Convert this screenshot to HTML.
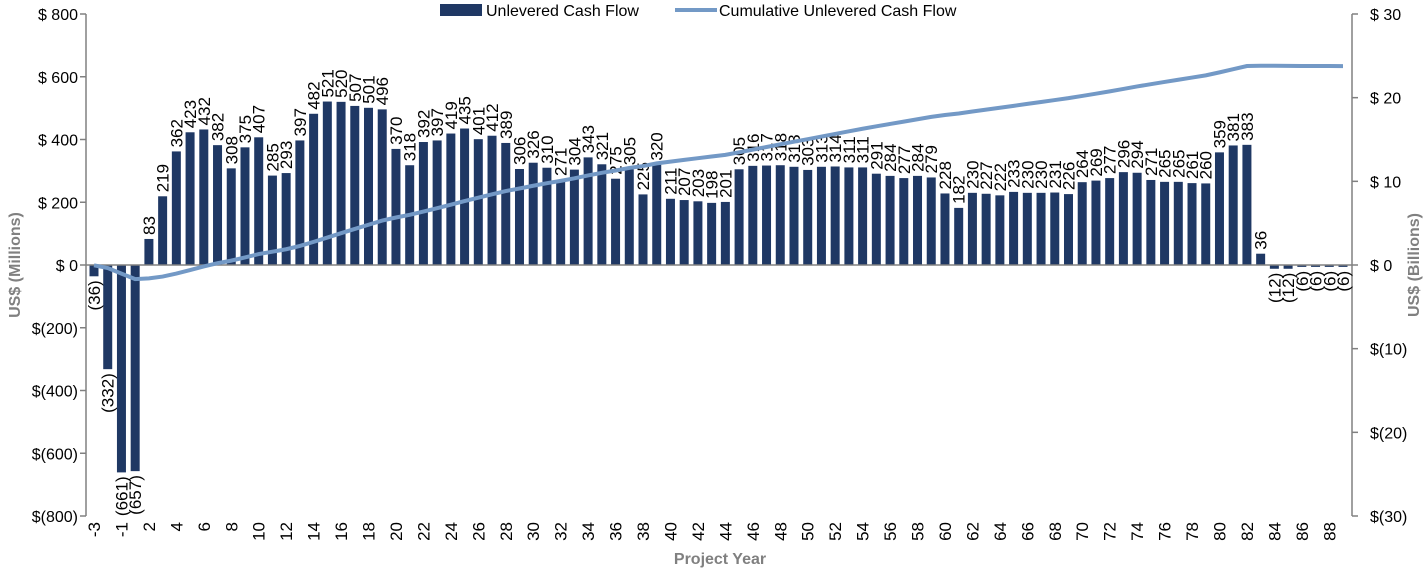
<!DOCTYPE html>
<html><head><meta charset="utf-8"><style>
body{margin:0;background:#fff;font-family:"Liberation Sans",Arial,sans-serif}
svg text{font-family:"Liberation Sans",Arial,sans-serif}
</style></head><body>
<svg id="c" width="1427" height="569"></svg>
<script>
const years=[-3,-2,-1,1,2,3,4,5,6,7,8,9,10,11,12,13,14,15,16,17,18,19,20,21,22,23,24,25,26,27,28,29,30,31,32,33,34,35,36,37,38,39,40,41,42,43,44,45,46,47,48,49,50,51,52,53,54,55,56,57,58,59,60,61,62,63,64,65,66,67,68,69,70,71,72,73,74,75,76,77,78,79,80,81,82,83,84,85,86,87,88,89];
const cashFlow=[-36,-332,-661,-657,83,219,362,423,432,382,308,375,407,285,293,397,482,521,520,507,501,496,370,318,392,397,419,435,401,412,389,306,326,310,271,304,343,321,275,305,225,320,211,207,203,198,201,305,316,317,318,313,303,313,314,311,311,291,284,277,284,279,228,182,230,227,222,233,230,230,231,226,264,269,277,296,294,271,265,265,261,260,359,381,383,36,-12,-12,-6,-6,-6,-6];
const leftTicks=[800,600,400,200,0,-200,-400,-600,-800];
const leftTickLabels=["$ 800","$ 600","$ 400","$ 200","$ 0","$(200)","$(400)","$(600)","$(800)"];
const rightTicks=[30,20,10,0,-10,-20,-30];
const rightTickLabels=["$ 30","$ 20","$ 10","$ 0","$(10)","$(20)","$(30)"];

const svg=document.getElementById('c');
const NS='http://www.w3.org/2000/svg';
function mk(t,a,p){const e=document.createElementNS(NS,t);for(const k in a)e.setAttribute(k,a[k]);(p||svg).appendChild(e);return e;}
const plotTop=14,plotBot=516,axL=86,axR=1352;
const yL=v=>plotTop+(800-v)/1600*(plotBot-plotTop);
const yR=v=>plotTop+(30-v)/60*(plotBot-plotTop);
const x0=94,step=(1343-94)/(years.length-1);
const xI=i=>x0+i*step;
const fmt=v=>v<0?"("+(-v)+")":String(v);

let e=mk('line',{x1:axL,y1:plotTop,x2:axL,y2:plotBot,stroke:'#808080','stroke-width':1.5});

e=mk('line',{x1:axR,y1:plotTop,x2:axR,y2:plotBot,stroke:'#808080','stroke-width':1.5});

leftTicks.forEach((v,i)=>{
  mk('line',{x1:axL-6,y1:yL(v),x2:axL,y2:yL(v),stroke:'#808080','stroke-width':1.5});
  const t=mk('text',{x:axL-8,y:yL(v)+6,'text-anchor':'end','font-size':16,fill:'#000'});
  t.textContent=leftTickLabels[i];
  
});
rightTicks.forEach((v,i)=>{
  mk('line',{x1:axR,y1:yR(v),x2:axR+6,y2:yR(v),stroke:'#808080','stroke-width':1.5});
  const t=mk('text',{x:axR+18,y:yR(v)+6,'font-size':16,fill:'#000'});
  t.textContent=rightTickLabels[i];
  
});
cashFlow.forEach((v,i)=>{
  const x=xI(i),y0=yL(0),y1=yL(v);
  const r=mk('rect',{x:x-4.5,y:Math.min(y0,y1),width:9,height:Math.max(0.5,Math.abs(y1-y0)),fill:'#1f3864'});
  
  const ty=v>=0?y1-4:y1+4;
  const t=mk('text',{x:0,y:0,'font-size':17,fill:'#000','text-anchor':v>=0?'start':'end',transform:`translate(${x+6},${ty}) rotate(-90)`});
  t.textContent=fmt(v);
  
});
e=mk('line',{x1:axL,y1:yL(0),x2:axR,y2:yL(0),stroke:'#808080','stroke-width':1.5});

years.forEach((yr,i)=>{
  if(i%2!==0)return;
  const t=mk('text',{x:0,y:0,'font-size':17,fill:'#000','text-anchor':'end',transform:`translate(${xI(i)+6},${plotBot+6}) rotate(-90)`});
  t.textContent=yr;
  
});
let cum=0;const pts=cashFlow.map((v,i)=>{cum+=v;return xI(i)+','+yR(cum/1000);});
e=mk('polyline',{points:pts.join(' '),fill:'none',stroke:'#7399c6','stroke-width':4});

e=mk('text',{x:0,y:0,'font-size':16,'font-weight':'bold',fill:'#808080','text-anchor':'middle',transform:`translate(20,265) rotate(-90)`});
e.textContent='US$ (Millions)';
e=mk('text',{x:0,y:0,'font-size':16,'font-weight':'bold',fill:'#808080','text-anchor':'middle',transform:`translate(1419,265) rotate(-90)`});
e.textContent='US$ (Billions)';
e=mk('text',{x:720,y:564,'font-size':16,'font-weight':'bold',fill:'#808080','text-anchor':'middle'});
e.textContent='Project Year';
const lg=mk('g',{});
e=mk('rect',{x:440,y:4,width:42,height:12,fill:'#1f3864'},lg);

e=mk('text',{x:486,y:16,'font-size':16,fill:'#000'},lg);e.textContent='Unlevered Cash Flow';

e=mk('line',{x1:675,y1:10,x2:717,y2:10,stroke:'#7399c6','stroke-width':4},lg);

e=mk('text',{x:719,y:16,'font-size':16,fill:'#000'},lg);e.textContent='Cumulative Unlevered Cash Flow';

</script>
</body></html>
